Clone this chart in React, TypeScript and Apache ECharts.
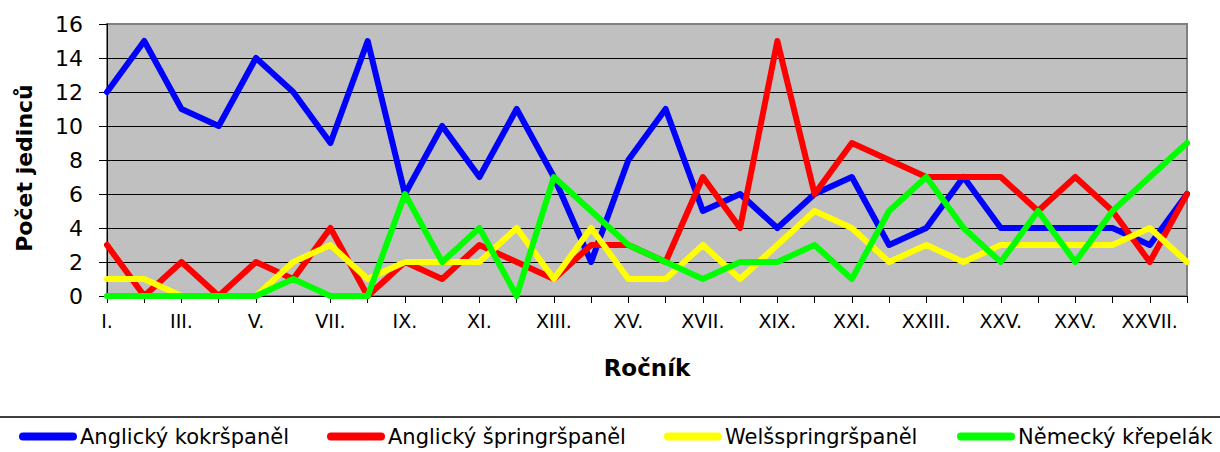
import React, { useEffect, useRef } from "react";
import * as echarts from "echarts";

const categories = [
  "I.", "II.", "III.", "IV.", "V.", "VI.", "VII.", "VIII.", "IX.", "X.",
  "XI.", "XII.", "XIII.", "XIV.", "XV.", "XVI.", "XVII.", "XVIII.", "XIX.", "XX.",
  "XXI.", "XXII.", "XXIII.", "XXIV.", "XXV.", "XXVI.", "XXV.", "XXVI.", "XXVII.", "XXVIII.",
];

const seriesNames = [
  "Anglický kokršpaněl",
  "Anglický špringršpaněl",
  "Welšspringršpaněl",
  "Německý křepelák",
];

const kokrspanel = [12, 15, 11, 10, 14, 12, 9, 15, 6, 10, 7, 11, 7, 2, 8, 11, 5, 6, 4, 6, 7, 3, 4, 7, 4, 4, 4, 4, 3, 6];
const springrspanel = [3, 0, 2, 0, 2, 1, 4, 0, 2, 1, 3, 2, 1, 3, 3, 2, 7, 4, 15, 6, 9, 8, 7, 7, 7, 5, 7, 5, 2, 6];
const welsspringrspanel = [1, 1, 0, 0, 0, 2, 3, 1, 2, 2, 2, 4, 1, 4, 1, 1, 3, 1, 3, 5, 4, 2, 3, 2, 3, 3, 3, 3, 4, 2];
const nemeckyKrepelak = [0, 0, 0, 0, 0, 1, 0, 0, 6, 2, 4, 0, 7, 5, 3, 2, 1, 2, 2, 3, 1, 5, 7, 4, 2, 5, 2, 5, 7, 9];

const seriesValues = [kokrspanel, springrspanel, welsspringrspanel, nemeckyKrepelak];
const seriesColors = ["#0000FF", "#FF0000", "#FFFF00", "#00FF00"];

const yTicks = { min: 0, max: 16, interval: 2 };
const FONT = "DejaVu Sans, Liberation Sans, Arial, sans-serif";
const legendLefts = [14, 322, 659, 952];
const ICON = "path://M4,0 H54 A4,4 0 0 1 54,8 H4 A4,4 0 0 1 4,0 Z";

export default function App() {
  const ref = useRef<HTMLDivElement>(null);

  useEffect(() => {
    document.body.style.margin = "0";
    if (!ref.current) return;
    const chart = echarts.init(ref.current, undefined, { renderer: "svg" });
    chart.setOption({
      animation: false,
      backgroundColor: "#FFFFFF",
      textStyle: { fontFamily: FONT, color: "#000" },
      grid: {
        left: 107,
        right: 33,
        top: 24,
        bottom: 156,
        show: true,
        backgroundColor: "#C0C0C0",
        borderColor: "#808080",
        borderWidth: 2,
      },
      xAxis: {
        type: "category",
        data: categories,
        boundaryGap: false,
        name: "Ročník",
        nameLocation: "middle",
        nameGap: 60,
        nameTextStyle: { fontFamily: FONT, fontSize: 23, fontWeight: "bold", color: "#000" },
        axisLine: { show: true, lineStyle: { color: "#000", width: 1 } },
        axisTick: { show: true, interval: 0, length: 7, lineStyle: { color: "#000" } },
        axisLabel: { interval: 1, fontFamily: FONT, fontSize: 19, color: "#000", margin: 15 },
        splitLine: { show: false },
      },
      yAxis: {
        type: "value",
        min: yTicks.min,
        max: yTicks.max,
        interval: yTicks.interval,
        name: "Počet jedinců",
        nameLocation: "middle",
        nameGap: 72,
        nameTextStyle: { fontFamily: FONT, fontSize: 22, fontWeight: "bold", color: "#000", padding: [0, 16, 0, 0] },
        axisLine: { show: true, lineStyle: { color: "#000", width: 1 } },
        axisTick: { show: true, length: 8, lineStyle: { color: "#000" } },
        axisLabel: { fontFamily: FONT, fontSize: 22, color: "#000", margin: 24 },
        splitLine: { show: true, showMinLine: false, showMaxLine: false, lineStyle: { color: "#000", width: 1 } },
      },
      legend: seriesNames.map((n, i) => ({
        data: [n],
        left: legendLefts[i],
        top: 421,
        padding: 5,
        icon: ICON,
        itemWidth: 58,
        itemHeight: 8,
        textStyle: { fontFamily: FONT, fontSize: 21, color: "#000", padding: [0, 0, 0, -2] },
      })),
      graphic: [
        {
          type: "line",
          shape: { x1: 0, y1: 417, x2: 1220, y2: 417 },
          style: { stroke: "#000", lineWidth: 1.5 },
          silent: true,
        },
      ],
      series: seriesNames.map((n, i) => ({
        name: n,
        type: "line",
        data: seriesValues[i],
        showSymbol: false,
        symbol: "none",
        color: seriesColors[i],
        lineStyle: { color: seriesColors[i], width: 6, join: "round", cap: "round" },
      })),
    });
    return () => chart.dispose();
  }, []);

  return <div ref={ref} style={{ width: 1220, height: 452 }} />;
}
